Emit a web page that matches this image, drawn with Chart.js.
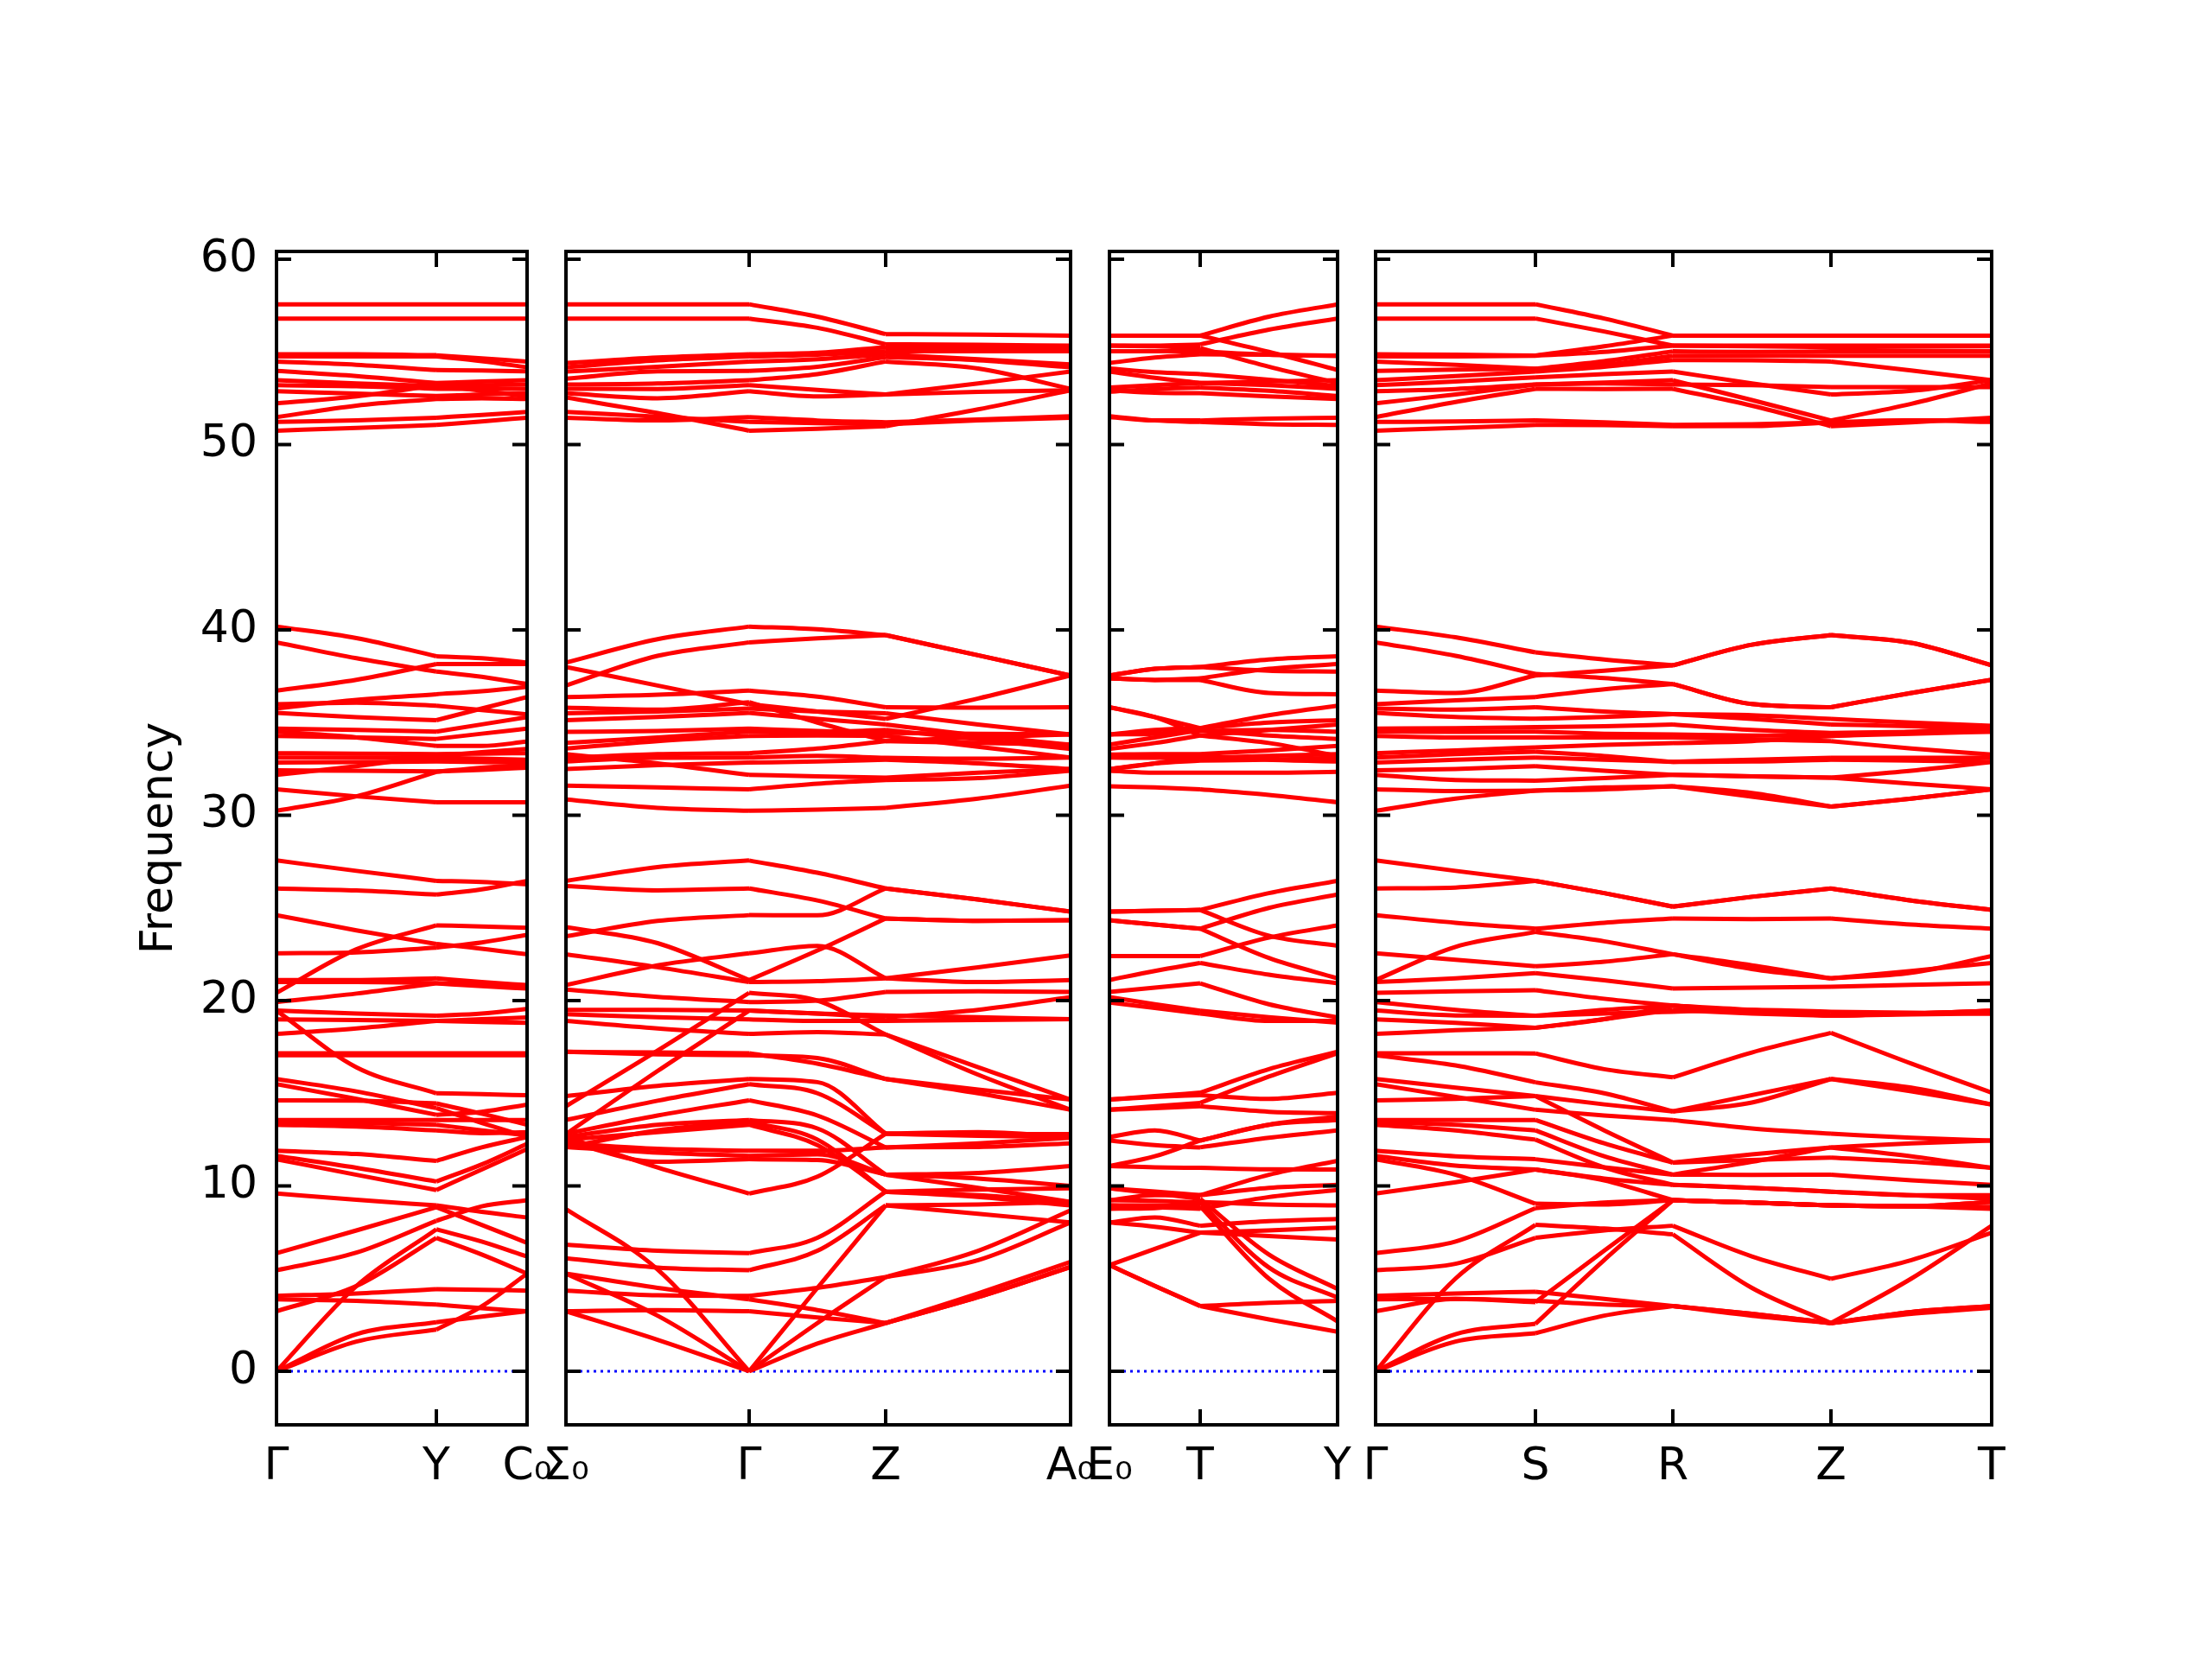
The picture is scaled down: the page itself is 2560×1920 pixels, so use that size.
<!DOCTYPE html>
<html>
<head>
<meta charset="utf-8">
<title>Phonon band structure</title>
<script src="https://cdn.jsdelivr.net/npm/chart.js@4.4.1/dist/chart.umd.min.js"></script>
<style>
  body { margin: 0; background: #fff; }
  #fig { position: relative; width: 2560px; height: 1920px; background: #fff; }
  #fig canvas { position: absolute; left: 0; top: 0; }
</style>
</head>
<body>
<div id="fig">
  <canvas id="panel1" width="2560" height="1920"></canvas>
  <canvas id="panel2" width="2560" height="1920"></canvas>
  <canvas id="panel3" width="2560" height="1920"></canvas>
  <canvas id="panel4" width="2560" height="1920"></canvas>
</div>
<script>
// q-path distances of the sample points and the high-symmetry ticks
const panel1X = [0, 0.925, 1.85, 2.375, 2.90];
const panel1Ticks = [0, 1.85, 2.90];
const panel1Labels = ['Γ', 'Y', 'C₀'];

const panel2X = [0, 1.06, 2.12, 2.91, 3.70, 4.77, 5.84];
const panel2Ticks = [0, 2.12, 3.70, 5.84];
const panel2Labels = ['Σ₀', 'Γ', 'Z', 'A₀'];

const panel3X = [0, 0.525, 1.05, 1.845, 2.64];
const panel3Ticks = [0, 1.05, 2.64];
const panel3Labels = ['E₀', 'T', 'Y'];

const panel4X = [0, 0.925, 1.85, 2.645, 3.44, 4.355, 5.27, 6.2, 7.13];
const panel4Ticks = [0, 1.85, 3.44, 5.27, 7.13];
const panel4Labels = ['Γ', 'S', 'R', 'Z', 'T'];

// frequencies of each band at the sample points
const panel1Bands = [
  [57.57,57.57,57.57,57.57,57.57],
  [56.8,56.8,56.8,56.8,56.8],
  [54.87,54.87,54.82,54.65,54.48],
  [54.75,54.75,54.75,54.5,54.17],
  [54.48,54.3,54.02,54.0,53.95],
  [53.97,53.7,53.32,53.4,53.47],
  [53.47,53.3,53.16,53.2,53.24],
  [53.2,53.15,53.01,53.0,53.01],
  [52.88,52.75,52.62,52.7,52.77],
  [52.23,52.6,53.2,52.9,52.6],
  [51.48,52.1,52.46,52.5,52.46],
  [51.22,51.3,51.45,51.6,51.76],
  [50.75,50.9,51.06,51.25,51.45],

  [40.18,39.56,38.58,38.47,38.24],
  [39.33,38.47,37.75,37.47,37.08],
  [36.72,37.31,38.16,38.16,38.16],
  [35.99,36.07,35.91,35.68,35.44],
  [35.76,36.22,36.53,36.69,36.92],
  [35.52,35.29,35.13,35.76,36.38],
  [34.67,34.6,34.51,34.9,35.29],
  [34.51,34.2,33.74,33.74,33.97],
  [34.28,34.2,34.12,34.4,34.67],
  [33.35,33.32,33.3,33.32,33.35],
  [33.11,33.11,33.1,33.05,33.0],
  [32.84,32.87,32.9,32.87,32.84],
  [32.18,32.65,33.2,33.4,33.58],
  [32.42,32.4,32.37,32.45,32.57],
  [31.4,31.02,30.7,30.7,30.7],
  [30.24,31.02,32.34,32.57,32.72],

  [27.56,27.0,26.46,26.4,26.27],
  [26.05,25.94,25.72,26.0,26.46],
  [24.61,23.79,23.05,22.8,22.5],
  [20.42,22.77,24.06,24.0,23.93],
  [22.55,22.6,22.86,23.14,23.55],
  [21.11,21.11,21.2,21.0,20.84],
  [21.0,21.0,20.95,20.85,20.7],
  [19.92,20.38,20.93,20.78,20.65],
  [19.46,19.3,19.18,19.3,19.55],
  [18.99,18.95,18.9,18.85,18.8],
  [18.2,18.5,18.9,19.0,19.09],
  [19.46,16.4,15.0,14.95,14.89],
  [17.16,17.16,17.16,17.16,17.16],
  [17.05,17.05,17.05,17.05,17.05],
  [15.77,15.1,14.2,13.4,12.64],
  [15.49,14.7,13.84,14.0,14.39],
  [14.62,14.6,14.45,13.9,13.3],
  [13.56,13.56,13.56,13.56,13.56],
  [13.45,13.4,13.3,13.0,12.73],
  [13.3,13.2,13.0,12.85,12.9],
  [11.9,11.72,11.35,12.08,12.64],
  [11.62,10.98,10.24,11.16,12.27],
  [11.44,10.6,9.78,10.89,11.99],
  [9.59,9.25,8.95,8.6,8.3],
  [6.37,7.6,8.85,7.9,6.93],
  [5.45,6.4,8.12,8.9,9.23],
  [3.24,4.6,7.2,6.3,5.27],
  [0,4.6,7.66,7.0,6.19],
  [4.07,4.2,4.43,4.4,4.35],
  [3.88,3.8,3.6,3.4,3.24],
  [0,2.0,2.65,2.95,3.24],
  [0,1.6,2.25,3.5,5.27]
];

const panel2Bands = [
  [57.57,57.57,57.57,56.9,55.96,55.93,55.88],
  [56.8,56.8,56.8,56.3,55.41,55.38,55.34],
  [54.4,54.7,54.87,54.95,55.26,55.22,55.2],
  [54.17,54.55,54.75,54.85,55.03,55.03,55.03],
  [53.94,54.2,54.48,54.6,54.87,54.6,54.33],
  [53.55,53.95,53.97,54.2,54.72,54.55,54.17],
  [53.24,53.3,53.47,53.8,54.48,54.1,53.01],
  [53.01,53.0,53.2,52.95,52.7,53.3,53.94],
  [52.77,52.5,52.88,52.6,52.7,52.85,52.93],
  [52.54,51.7,50.75,50.85,50.99,51.9,52.93],
  [51.76,51.5,51.22,51.15,51.1,51.3,51.45],
  [51.45,51.3,51.48,51.3,51.2,51.35,51.53],

  [38.24,39.5,40.18,40.03,39.72,38.63,37.54],
  [37.0,38.6,39.33,39.55,39.72,38.63,37.54],
  [38.0,37.0,35.99,35.6,35.2,36.3,37.54],
  [36.38,36.5,36.72,36.4,35.83,35.8,35.83],
  [35.5,35.6,35.76,35.6,35.5,34.9,34.36],
  [35.13,35.3,35.52,35.2,34.9,34.3,33.81],
  [34.5,34.55,34.67,34.55,34.44,34.4,34.36],
  [33.9,34.2,34.51,34.5,34.6,34.1,33.58],
  [33.6,34.0,34.28,34.3,34.28,33.7,33.11],
  [33.1,33.3,33.35,33.6,34.0,34.2,34.36],
  [32.9,33.1,33.11,33.2,33.1,33.05,33.11],
  [32.5,32.7,32.84,32.9,33.0,32.8,32.49],
  [31.6,31.5,31.4,31.7,31.9,32.0,32.4],
  [30.85,30.4,30.24,30.3,30.4,30.9,31.6],
  [35.8,35.7,36.1,35.0,34.0,33.9,33.81],
  [33.3,32.8,32.18,32.1,32.03,32.3,32.49],

  [26.46,27.2,27.56,26.9,26.05,25.45,24.8],
  [26.18,25.95,26.05,25.4,24.43,24.3,24.34],
  [23.47,24.3,24.61,24.6,26.05,25.45,24.8],
  [23.97,23.1,21.11,22.7,24.43,24.3,24.34],
  [22.5,21.8,21.0,21.05,21.2,21.0,21.11],
  [20.84,21.9,22.55,22.95,21.2,21.8,22.44],
  [14.3,17.3,20.42,20.0,18.17,16.4,14.66],
  [20.6,20.2,19.92,20.0,20.47,20.5,20.47],
  [19.5,19.5,19.46,19.3,19.09,19.5,20.19],
  [19.27,19.1,18.99,18.9,18.9,18.95,19.0],
  [18.9,18.5,18.2,18.3,18.17,16.0,14.11],
  [17.24,17.2,17.16,16.6,15.77,15.0,14.11],
  [12.8,16.2,19.46,19.3,19.2,19.1,19.0],
  [17.24,17.1,17.05,16.9,15.77,15.2,14.66],
  [14.85,15.4,15.77,15.6,12.82,12.7,12.64],
  [13.56,14.6,15.49,15.0,12.82,12.8,12.8],
  [12.82,13.8,14.62,13.8,12.08,12.3,12.6],
  [12.64,13.3,13.56,13.1,10.61,10.7,11.07],
  [12.08,13.0,13.45,12.5,9.69,9.8,9.87],
  [12.5,12.9,13.3,12.2,9.69,9.5,9.14],
  [12.3,12.0,11.9,11.9,12.08,12.1,12.3],
  [12.1,11.8,11.62,11.7,10.61,10.4,10.0],
  [12.4,11.3,11.44,11.4,10.61,9.9,9.14],
  [12.64,11.0,9.59,10.5,12.82,12.9,12.64],
  [6.83,6.5,6.37,7.2,9.69,9.4,8.95],
  [6.1,5.6,5.45,6.5,8.95,9.0,9.14],
  [4.35,4.1,4.07,4.5,5.08,6.5,8.68],
  [5.27,4.5,3.88,3.3,2.6,4.0,5.63],
  [3.24,3.3,3.24,2.9,2.6,4.2,5.9],
  [8.75,5.5,0,4.5,8.95,8.5,8.03],
  [5.27,3.0,0,1.5,2.6,4.0,5.63],
  [3.24,1.7,0,2.6,5.08,6.0,8.03]
];

const panel3Bands = [
  [55.88,55.88,55.88,56.9,57.57],
  [55.34,55.34,55.4,56.2,56.8],
  [55.88,55.88,55.88,55.0,54.02],
  [55.34,55.3,55.2,54.2,53.32],
  [55.03,55.03,55.03,54.85,54.8],
  [54.4,54.7,54.87,54.85,54.78],
  [54.1,53.9,53.8,53.5,53.16],
  [53.94,53.6,53.32,53.4,53.47],
  [53.08,53.2,53.32,53.2,53.01],
  [52.85,53.0,53.08,52.9,52.62],
  [52.93,52.8,52.77,52.6,52.46],
  [51.48,51.3,51.3,51.4,51.45],
  [51.53,51.3,51.22,51.1,51.06],

  [37.54,37.9,38.0,38.4,38.58],
  [37.39,37.3,37.39,37.9,38.16],
  [37.54,37.9,38.0,37.8,37.75],
  [37.39,37.3,37.3,36.6,36.53],
  [35.83,35.3,34.7,35.4,35.91],
  [34.36,34.6,34.7,35.0,35.13],
  [33.81,34.2,34.6,34.3,34.12],
  [34.36,34.4,34.55,34.6,34.51],
  [33.58,33.9,34.3,34.6,34.9],
  [33.27,33.3,33.3,33.5,33.74],
  [33.11,33.1,33.1,33.2,33.3],
  [32.49,32.8,32.95,33.0,33.1],
  [32.49,32.8,33.2,33.0,32.9],
  [31.56,31.5,31.4,31.1,30.7],
  [32.4,32.3,32.3,32.3,32.34],
  [35.83,35.3,34.3,33.9,33.2],

  [24.8,24.85,24.89,25.8,26.46],
  [24.34,24.1,23.88,25.0,25.72],
  [24.8,24.85,24.89,23.5,22.96],
  [22.4,22.4,22.4,23.4,24.06],
  [24.34,24.1,23.88,22.3,21.2],
  [21.11,21.6,22.03,21.4,20.93],
  [20.47,20.7,20.93,19.8,19.09],
  [20.19,19.8,19.45,19.1,18.81],
  [19.9,19.6,19.3,18.9,18.9],
  [14.66,14.85,15.03,16.3,17.24],
  [14.11,14.3,14.48,15.9,17.16],
  [14.66,14.8,14.9,14.7,15.03],
  [14.11,14.2,14.3,14.0,13.93],
  [12.64,13.0,12.45,13.3,13.74],
  [12.45,12.2,12.08,12.6,13.0],
  [11.07,11.6,12.45,13.3,13.56],
  [11.07,11.0,10.98,10.9,10.89],
  [9.87,9.7,9.5,10.6,11.35],
  [9.23,9.5,9.5,9.9,10.06],
  [8.95,8.85,8.77,9.4,9.78],
  [8.77,8.8,9.14,9.0,8.95],
  [8.03,8.3,7.85,8.1,8.22],
  [8.03,7.8,7.48,7.6,7.75],
  [9.87,9.6,9.3,6.3,4.44],
  [9.23,9.2,9.1,5.6,3.98],
  [8.95,8.95,8.9,5.0,2.69],
  [5.73,6.6,7.48,7.3,7.11],
  [5.73,4.6,3.52,2.8,2.13],
  [5.73,4.6,3.52,3.7,3.8]
];

const panel4Bands = [
  [57.57,57.57,57.57,56.8,55.88,55.88,55.88,55.88,55.88],
  [56.8,56.8,56.8,56.1,55.34,55.34,55.34,55.34,55.34],
  [54.87,54.85,54.8,55.3,55.88,55.88,55.88,55.88,55.88],
  [54.75,54.75,54.79,55.0,55.34,55.3,55.26,55.28,55.3],
  [54.48,54.3,54.09,54.5,55.03,55.0,55.03,55.03,55.03],
  [53.97,54.05,54.09,54.3,54.79,54.79,54.79,54.79,54.79],
  [53.47,53.7,53.94,54.2,54.56,54.55,54.48,54.0,53.47],
  [53.2,53.4,53.63,53.8,53.94,53.3,52.7,52.9,53.47],
  [52.88,53.0,53.24,53.35,53.47,52.4,51.3,52.2,53.3],
  [52.23,52.7,53.24,53.3,53.24,53.2,53.1,53.1,53.1],
  [51.48,52.3,53.01,53.0,53.01,52.1,50.99,51.2,51.45],
  [51.22,51.25,51.3,51.2,51.06,51.1,51.2,51.3,51.3],
  [50.75,50.9,51.06,51.05,50.99,51.0,51.2,51.3,51.22],

  [40.18,39.6,38.79,38.4,38.09,39.2,39.72,39.3,38.09],
  [39.33,38.6,37.62,37.4,37.08,36.0,35.83,36.6,37.31],
  [36.72,36.6,37.54,37.8,38.09,39.2,39.72,39.3,38.09],
  [35.99,36.2,36.38,36.8,37.08,36.0,35.83,36.6,37.31],
  [35.76,35.7,35.83,35.6,35.45,35.4,35.2,35.0,34.82],
  [35.52,35.3,35.21,35.3,35.45,35.2,34.9,34.8,34.67],
  [34.67,34.7,34.75,34.8,34.9,34.6,34.44,34.5,34.51],
  [34.51,34.5,34.51,34.4,34.36,34.3,34.28,34.4,34.51],
  [34.28,34.2,34.2,34.2,34.2,34.1,34.0,33.6,33.27],
  [33.35,33.5,33.66,33.8,33.89,34.0,34.28,34.5,34.82],
  [33.11,33.3,33.43,33.2,32.88,33.0,33.1,33.1,33.11],
  [32.84,33.0,33.11,33.0,32.88,32.9,33.0,32.95,32.88],
  [32.42,32.5,32.65,32.4,32.18,32.1,32.03,32.4,32.88],
  [32.18,31.9,31.87,32.0,32.18,32.1,32.03,31.7,31.4],
  [31.4,31.3,31.33,31.4,31.56,31.0,30.47,30.9,31.4],
  [30.24,30.9,31.33,31.5,31.56,31.2,30.47,30.9,31.4],

  [27.56,27.0,26.46,25.8,25.07,25.6,26.05,25.4,24.89],
  [26.05,26.1,26.46,25.8,25.07,25.6,26.05,25.4,24.89],
  [24.61,24.2,23.88,24.2,24.43,24.4,24.43,24.1,23.88],
  [21.11,22.9,23.7,23.2,22.5,21.7,21.2,21.5,22.4],
  [22.55,22.2,21.85,22.1,22.5,21.9,21.2,21.6,22.03],
  [21.0,21.2,21.48,21.1,20.65,20.7,20.75,20.85,20.93],
  [20.42,20.5,20.56,20.1,19.73,19.4,19.18,19.3,19.45],
  [19.92,19.5,19.18,19.5,19.73,19.5,19.18,19.25,19.3],
  [19.46,19.2,19.18,19.3,19.4,19.5,19.4,19.35,19.3],
  [18.99,18.8,18.53,19.0,19.73,19.4,19.18,19.3,19.45],
  [17.16,17.16,17.15,16.3,15.86,17.2,18.26,16.6,15.03],
  [17.05,16.5,15.59,15.0,14.02,14.5,15.77,15.3,14.39],
  [18.2,18.4,18.53,19.0,19.5,19.3,19.18,19.3,19.45],
  [15.77,15.3,14.85,14.4,14.02,14.9,15.77,15.1,14.39],
  [15.49,14.8,14.11,13.8,13.56,13.1,12.82,12.6,12.45],
  [14.62,14.7,14.85,13.0,11.26,11.7,12.08,11.6,10.98],
  [13.56,13.56,13.56,12.3,11.26,11.4,11.53,11.3,10.98],
  [13.45,13.3,13.0,11.6,10.61,10.6,10.61,10.3,10.06],
  [13.3,13.0,12.5,11.0,10.06,9.9,9.69,9.5,9.5],
  [11.9,11.6,11.44,11.0,10.61,11.3,12.08,12.3,12.45],
  [11.62,11.1,10.89,10.4,10.06,9.9,9.69,9.5,9.3],
  [11.44,10.6,9.04,9.0,9.23,9.1,8.95,8.9,8.86],
  [9.59,10.2,10.89,10.3,9.23,9.1,8.95,8.9,9.14],
  [6.37,7.0,8.8,9.1,9.23,9.1,8.95,8.9,8.77],
  [5.45,5.8,7.2,7.6,7.85,6.2,4.99,6.0,7.48],
  [0,5.0,7.9,7.7,7.39,4.5,2.6,5.0,7.85],
  [4.07,4.2,4.29,3.9,3.52,3.0,2.6,3.2,3.52],
  [3.24,3.9,3.73,6.5,9.23,9.1,8.95,8.9,8.86],
  [0,2.0,2.56,6.0,9.23,9.1,8.95,8.9,9.14],
  [0,1.6,2.05,3.0,3.52,3.1,2.6,3.1,3.43],
  [3.88,3.9,3.8,3.6,3.52,3.1,2.6,3.2,3.52]
];

const yMin = -2.89;
const yMax = 60.42;
const plotTop = 291;
const plotBottom = 1649;
const fontFamily = 'DejaVu Sans';

// box round the plot area and inward tick marks on all four sides
const frameTicks = {
  id: 'frameTicks',
  afterDatasetsDraw(chart) {
    const { ctx, chartArea: a, scales: { x, y } } = chart;
    ctx.save();
    ctx.strokeStyle = '#000';
    ctx.lineWidth = 4;
    ctx.beginPath();
    y.ticks.forEach(t => {
      const py = y.getPixelForValue(t.value);
      ctx.moveTo(a.left, py); ctx.lineTo(a.left + 17, py);
      ctx.moveTo(a.right, py); ctx.lineTo(a.right - 17, py);
    });
    x.ticks.forEach(t => {
      const px = x.getPixelForValue(t.value);
      ctx.moveTo(px, a.bottom); ctx.lineTo(px, a.bottom - 18);
      ctx.moveTo(px, a.top); ctx.lineTo(px, a.top + 18);
    });
    ctx.stroke();
    ctx.strokeRect(a.left, a.top, a.right - a.left, a.bottom - a.top);
    ctx.restore();
  }
};

function makePanel(id, left, right, xs, ticks, labels, bands, showY) {
  const xMax = ticks[ticks.length - 1];
  const datasets = [];
  // one line per band and per path segment, so bands kink at the special points
  bands.forEach(b => {
    for (let s = 0; s < ticks.length - 1; s++) {
      const pts = [];
      xs.forEach((x, i) => {
        if (x >= ticks[s] - 1e-9 && x <= ticks[s + 1] + 1e-9) pts.push({ x: x, y: b[i] });
      });
      datasets.push({
        data: pts,
        borderColor: '#ff0000',
        borderWidth: 5,
        pointRadius: 0,
        cubicInterpolationMode: 'monotone',
        order: 1
      });
    }
  });
  datasets.push({
    data: [{ x: 0, y: 0 }, { x: xMax, y: 0 }],
    borderColor: '#0000ff',
    borderWidth: 3,
    borderDash: [3, 5],
    pointRadius: 0,
    order: 2
  });
  const yW = showY ? 220 : 60;
  const xH = 120;
  new Chart(document.getElementById(id), {
    type: 'line',
    data: { datasets },
    options: {
      responsive: false,
      animation: false,
      devicePixelRatio: 1,
      layout: { padding: { left: left - yW, right: 2560 - right, top: plotTop, bottom: 1920 - plotBottom - xH } },
      plugins: { legend: { display: false }, tooltip: { enabled: false } },
      scales: {
        x: {
          type: 'linear', min: 0, max: xMax,
          grid: { display: false, drawTicks: false },
          border: { display: false },
          afterBuildTicks: s => { s.ticks = ticks.map(v => ({ value: v })); },
          afterFit: s => { s.height = xH; s.paddingLeft = 0; s.paddingRight = 0; },
          ticks: {
            autoSkip: false, maxRotation: 0, padding: 18, color: '#000',
            font: { family: fontFamily, size: 52 },
            callback: (v, i) => labels[i]
          }
        },
        y: {
          type: 'linear', min: yMin, max: yMax,
          grid: { display: false, drawTicks: false },
          border: { display: false },
          afterFit: s => { s.width = yW; s.paddingTop = 0; s.paddingBottom = 0; },
          ticks: {
            display: showY, stepSize: 10, includeBounds: false, padding: 22, color: '#000',
            font: { family: fontFamily, size: 52 }
          },
          title: {
            display: showY, text: 'Frequency', color: '#000',
            font: { family: fontFamily, size: 52 },
            padding: { top: 54, bottom: 0 }
          }
        }
      }
    },
    plugins: [frameTicks]
  });
}

makePanel('panel1', 320, 610, panel1X, panel1Ticks, panel1Labels, panel1Bands, true);
makePanel('panel2', 655, 1239, panel2X, panel2Ticks, panel2Labels, panel2Bands, false);
makePanel('panel3', 1284, 1548, panel3X, panel3Ticks, panel3Labels, panel3Bands, false);
makePanel('panel4', 1592, 2305, panel4X, panel4Ticks, panel4Labels, panel4Bands, false);
</script>
</body>
</html>
